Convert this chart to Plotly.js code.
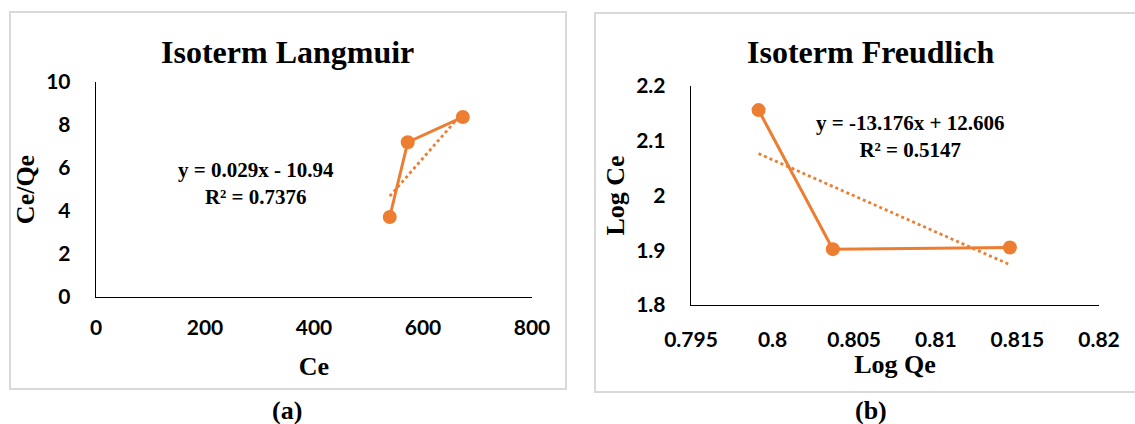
<!DOCTYPE html>
<html>
<head>
<meta charset="utf-8">
<script src="https://cdn.plot.ly/plotly-3.0.1.min.js"></script>
<style>
html,body{margin:0;padding:0;background:#fff;}
#chart{width:1135px;height:424px;}
</style>
</head>
<body>
<div id="chart"></div>
<script>
// Langmuir data
const langCe = [539, 572, 673];
const langCeQe = [3.72, 7.2, 8.37];
const langTrend = {slope: 0.029, intercept: -10.94};
const langEq = "y = 0.029x - 10.94";
const langR2 = "R² = 0.7376";
const langXTicks = [0, 200, 400, 600, 800];
const langYTicks = [0, 2, 4, 6, 8, 10];

// Freundlich data
const freuLogQe = [0.79914, 0.80369, 0.81454];
const freuLogCe = [2.156, 1.902, 1.905];
const freuTrend = {slope: -13.176, intercept: 12.606};
const freuEq = "y = -13.176x + 12.606";
const freuR2 = "R² = 0.5147";
const freuXTicks = [0.795, 0.8, 0.805, 0.81, 0.815, 0.82];
const freuXTickText = ["0.795", "0.8", "0.805", "0.81", "0.815", "0.82"];
const freuYTicks = [1.8, 1.9, 2, 2.1, 2.2];
const freuYTickText = ["1.8", "1.9", "2", "2.1", "2.2"];

const W = 1135, H = 424;
const px = v => v / W;
const py = v => (H - v) / H;

const orange = '#ED7D31';
const tnr = '"Liberation Serif", "Times New Roman", serif';
const tickFont = {family: 'Lato, "Open Sans", sans-serif', size: 21, color: '#000', weight: 'bold'};
const axTitleFont = {family: tnr, size: 26, color: '#000', weight: 'bold'};

function trendXY(xs, t) {
  const x0 = Math.min(...xs), x1 = Math.max(...xs);
  return {x: [x0, x1], y: [t.slope * x0 + t.intercept, t.slope * x1 + t.intercept]};
}
const lt = trendXY(langCe, langTrend);
const ft = trendXY(freuLogQe, freuTrend);

const traces = [
  {x: lt.x, y: lt.y, mode: 'lines', line: {color: orange, width: 2.8, dash: 'dot'}, xaxis: 'x', yaxis: 'y', hoverinfo: 'skip'},
  {x: langCe, y: langCeQe, mode: 'lines+markers', line: {color: orange, width: 3}, marker: {color: orange, size: 14}, xaxis: 'x', yaxis: 'y'},
  {x: ft.x, y: ft.y, mode: 'lines', line: {color: orange, width: 2.8, dash: 'dot'}, xaxis: 'x2', yaxis: 'y2', hoverinfo: 'skip'},
  {x: freuLogQe, y: freuLogCe, mode: 'lines+markers', line: {color: orange, width: 3}, marker: {color: orange, size: 14}, xaxis: 'x2', yaxis: 'y2'}
];

const axisCommon = {
  showgrid: false, zeroline: false, showline: true, linecolor: '#000', linewidth: 1.3,
  ticks: '', tickfont: tickFont, fixedrange: true
};

function ann(text, x, y, size, extra) {
  return Object.assign({text: text, xref: 'paper', yref: 'paper', x: px(x), y: py(y), xanchor: 'center', yanchor: 'middle',
    showarrow: false, align: 'center', font: {family: tnr, size: size, color: '#000', weight: 'bold'}}, extra || {});
}

const layout = {
  width: W, height: H,
  margin: {l: 0, r: 0, t: 0, b: 0},
  paper_bgcolor: '#fff', plot_bgcolor: 'rgba(0,0,0,0)',
  showlegend: false,
  xaxis: Object.assign({}, axisCommon, {
    domain: [px(96), px(532)], range: [0, 800], tickvals: langXTicks, anchor: 'y',
    ticklabelstandoff: 11,
    title: {text: 'Ce', font: axTitleFont, standoff: 19}
  }),
  yaxis: Object.assign({}, axisCommon, {
    domain: [py(297), py(82)], range: [0, 10], tickvals: langYTicks, anchor: 'x',
    ticklabelstandoff: 20,
    title: {text: 'Ce/Qe', font: axTitleFont, standoff: 4}
  }),
  xaxis2: Object.assign({}, axisCommon, {
    domain: [px(691), px(1099)], range: [0.795, 0.82], tickvals: freuXTicks, ticktext: freuXTickText, anchor: 'y2',
    ticklabelstandoff: 15,
    title: {text: 'Log Qe', font: axTitleFont, standoff: 2}
  }),
  yaxis2: Object.assign({}, axisCommon, {
    domain: [py(305), py(86)], range: [1.8, 2.2], tickvals: freuYTicks, ticktext: freuYTickText, anchor: 'x2',
    ticklabelstandoff: 20,
    title: {text: 'Log Ce', font: axTitleFont, standoff: 4}
  }),
  shapes: [
    {type: 'rect', xref: 'paper', yref: 'paper', x0: px(10), x1: px(566), y0: py(389), y1: py(12), line: {color: '#D9D9D9', width: 2}},
    {type: 'rect', xref: 'paper', yref: 'paper', x0: px(595), x1: px(1145), y0: py(392), y1: py(13), line: {color: '#D9D9D9', width: 2}}
  ],
  annotations: [
    ann('Isoterm Langmuir', 287, 52, 32),
    ann('Isoterm Freudlich', 871, 52, 32),
    ann(langEq + '<br>' + langR2, 256, 183, 21),
    ann(freuEq + '<br>' + freuR2, 910, 137, 21),
    ann('(a)', 287, 410, 26),
    ann('(b)', 871, 410, 26)
  ]
};

Plotly.newPlot('chart', traces, layout, {displayModeBar: false, staticPlot: true});
</script>
</body>
</html>
